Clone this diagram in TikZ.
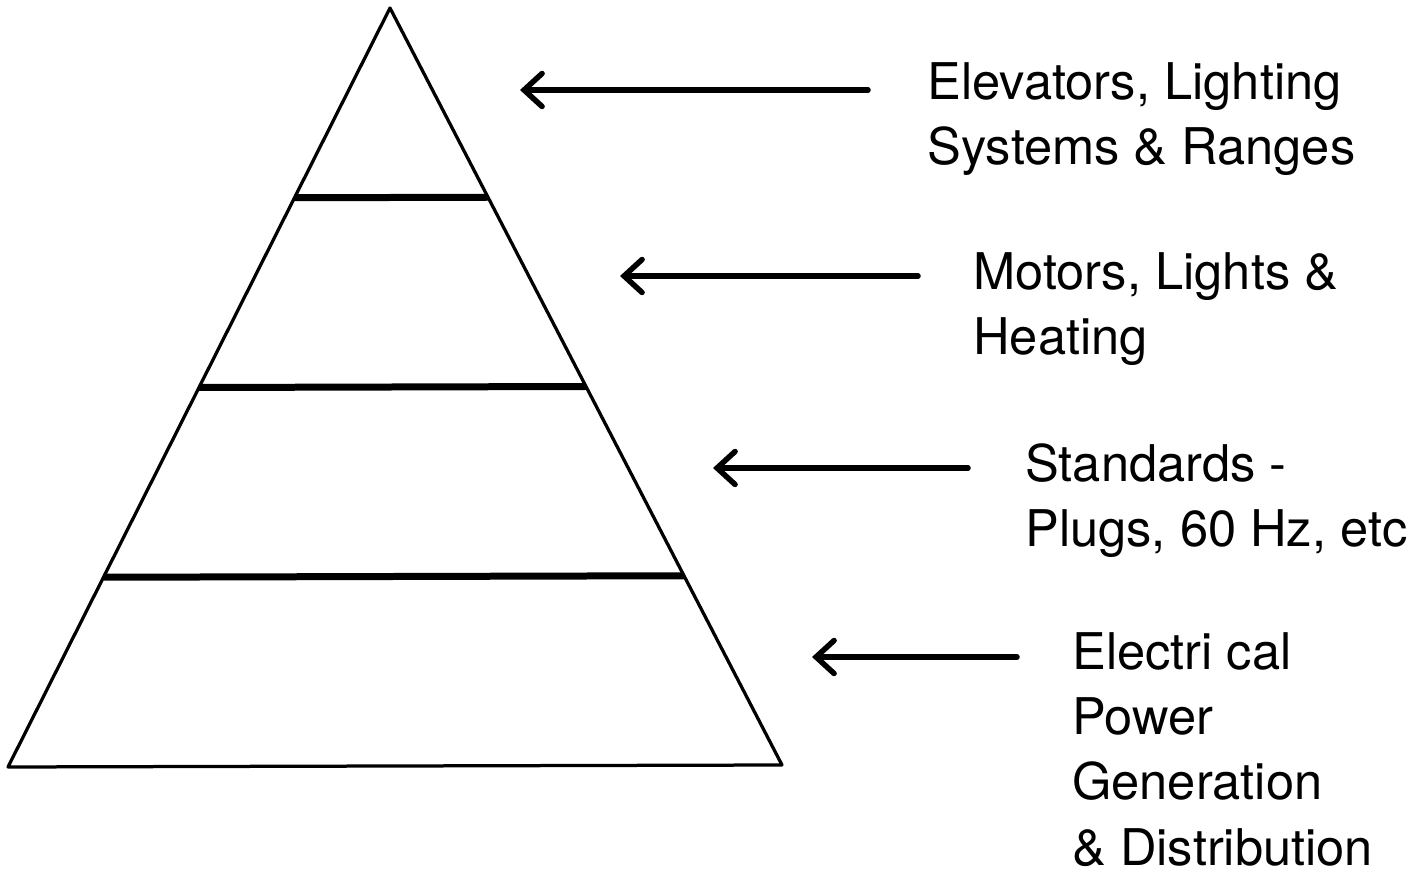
\documentclass[tikz,border=0pt]{standalone}
\usepackage{fontspec}
\setmainfont{TeX Gyre Heros}
\usetikzlibrary{positioning,calc,arrows.meta}

\begin{document}
\begin{tikzpicture}[x=0.02cm, y=-0.02cm,
    lvltext/.style={anchor=north west, inner sep=0pt, align=left, font=\fontsize{28.8pt}{37.2pt}\selectfont},
    pointer/.style={line width=0.11cm, line cap=round, -{Straight Barb[length=0.36cm, width=0.66cm, line cap=round]}},
    tier/.style={line width=0.14cm}]
    \useasboundingbox (0,0) rectangle (1428,878);

    % Pyramid
    \coordinate (top) at (390,8);
    \coordinate (bl) at (8,767);
    \coordinate (br) at (782,765);
    \draw[line width=0.065cm, line join=round] (top) -- (bl) -- (br) -- cycle;
    \foreach \t in {0.25,0.5,0.75}
        \draw[tier] ($(top)!\t!(bl)$) -- ($(top)!\t!(br)$);

    % Descriptive text
    \node (elev) at (927,62) [lvltext] {Elevators, Lighting\\Systems \& Ranges};
    \node (motors) at (973,252) [lvltext] {Motors, Lights \&\\Heating};
    \node (stds) at (1025,443) [lvltext] {Standards -\\Plugs, 60 Hz, etc};
    \node (power) at (1072,632) [lvltext] {Electri cal\\Power\\Generation\\\& Distribution};

    % Arrows
    \foreach \n/\tx/\hx/\y in {1/868/520/90, 2/918/620/276, 3/968/713/468, 4/1017/812/657} {
        \coordinate (tail\n) at (\tx,\y);
        \coordinate (head\n) at (\hx,\y);
        \draw[pointer] (tail\n) -- (head\n);
    }
\end{tikzpicture}
\end{document}
